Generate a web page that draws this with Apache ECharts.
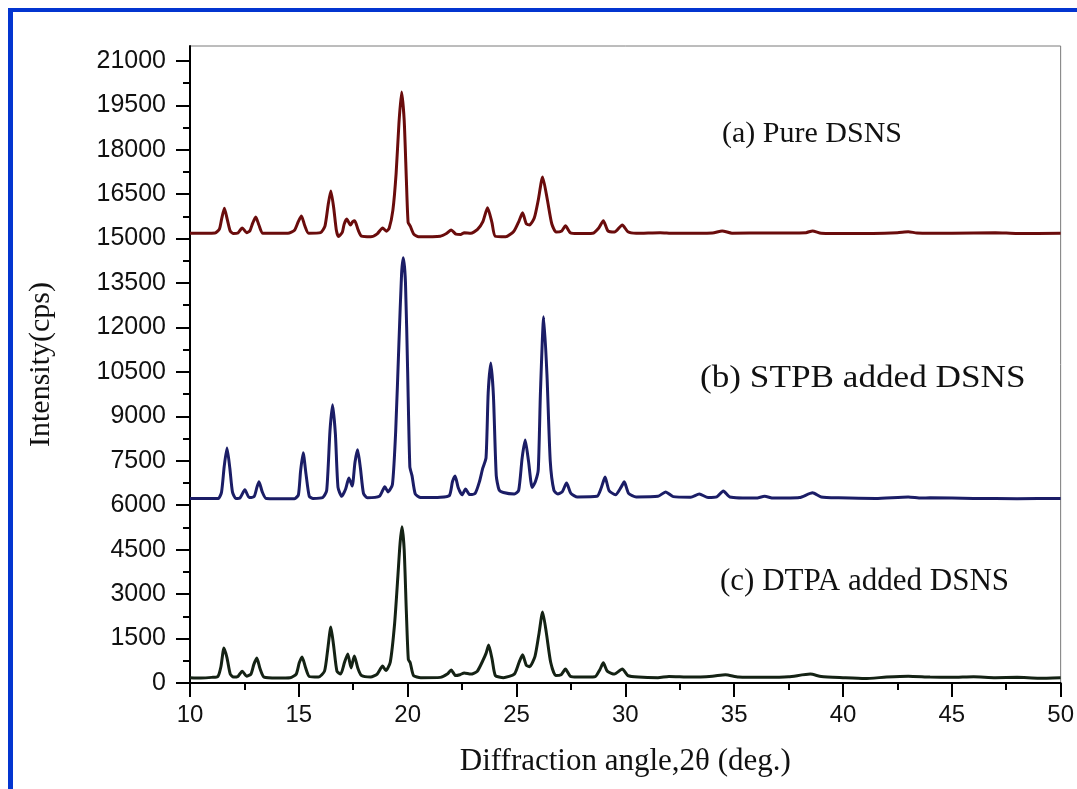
<!DOCTYPE html>
<html lang="en">

<head>
    <meta charset="UTF-8">
    <title>XRD DSNS</title>
    <script src="https://cdn.jsdelivr.net/npm/echarts/dist/echarts.min.js"></script>
    <style>
        body { margin: 0; background: #fff; }
        #main { width: 1077px; height: 789px; }
    </style>
</head>

<body>
    <div id="main"></div>

    <script>
        // tick values
        const xTicks = [10, 15, 20, 25, 30, 35, 40, 45, 50];
        const xMinorTicks = [12.5, 17.5, 22.5, 27.5, 32.5, 37.5, 42.5, 47.5];
        const yTicks = [0, 1500, 3000, 4500, 6000, 7500, 9000, 10500, 12000, 13500, 15000, 16500, 18000, 19500, 21000];
        const yMinorTicks = [750, 2250, 3750, 5250, 6750, 8250, 9750, 11250, 12750, 14250, 15750, 17250, 18750, 20250];

        // (a) pure DSNS [2theta, cps]
        const pureDSNS = [
            [10, 15180], [11.15, 15190], [11.35, 15320], [11.45, 15650], [11.58, 16020], [11.72, 15620], [11.85, 15250],
            [12.0, 15170], [12.2, 15190], [12.4, 15360], [12.6, 15200], [12.75, 15260], [12.88, 15520], [13.02, 15730],
            [13.17, 15450], [13.35, 15180], [14.5, 15180], [14.8, 15280], [14.98, 15580], [15.12, 15760], [15.27, 15440],
            [15.45, 15180], [16.0, 15200], [16.2, 15420], [16.35, 16150], [16.47, 16610], [16.6, 16050], [16.72, 15300],
            [16.82, 15070], [17.0, 15220], [17.08, 15480], [17.2, 15660], [17.37, 15460], [17.48, 15570], [17.57, 15600],
            [17.72, 15300], [17.88, 15080], [18.3, 15060], [18.6, 15160], [18.85, 15360], [19.02, 15250], [19.15, 15350],
            [19.32, 15950], [19.47, 17200], [19.6, 18900], [19.72, 19950], [19.84, 19000], [19.94, 17000], [20.02, 15550],
            [20.12, 15420], [20.28, 15150], [20.5, 15060], [21.5, 15080], [21.8, 15180], [22.0, 15290], [22.22, 15150],
            [22.45, 15140], [22.6, 15200], [22.9, 15180], [23.2, 15300], [23.45, 15560], [23.67, 16040], [23.87, 15550],
            [24.02, 15080], [24.5, 15060], [24.88, 15250], [25.12, 15600], [25.28, 15870], [25.45, 15500], [25.6, 15460],
            [25.82, 15700], [26.0, 16300], [26.2, 17080], [26.42, 16300], [26.62, 15500], [26.82, 15220], [27.08, 15260],
            [27.25, 15430], [27.47, 15200], [27.8, 15170], [28.5, 15180], [28.78, 15360], [28.99, 15600], [29.2, 15260],
            [29.5, 15220], [29.86, 15460], [30.12, 15230], [30.5, 15180], [31.6, 15200], [32.2, 15180], [34.0, 15190],
            [34.45, 15260], [34.9, 15180], [36.5, 15190], [38.3, 15200], [38.6, 15260], [39.0, 15180], [40.5, 15170],
            [42.5, 15200], [43.0, 15230], [43.4, 15190], [45, 15180], [47, 15200], [48, 15170], [50, 15180]
        ];

        // (b) STPB added DSNS
        const stpbDSNS = [
            [10, 6230], [11.3, 6230], [11.45, 6450], [11.57, 7300], [11.7, 7930], [11.83, 7250], [11.95, 6450], [12.1, 6230],
            [12.3, 6250], [12.52, 6520], [12.72, 6260], [12.95, 6300], [13.08, 6620], [13.17, 6790], [13.32, 6450],
            [13.5, 6230], [14.8, 6220], [14.98, 6350], [15.08, 7150], [15.2, 7770], [15.33, 7050], [15.48, 6300],
            [15.65, 6230], [16.1, 6260], [16.28, 6500], [16.43, 8500], [16.55, 9390], [16.68, 8400], [16.8, 6600],
            [16.97, 6300], [17.15, 6550], [17.3, 6920], [17.45, 6650], [17.58, 7450], [17.7, 7870], [17.83, 7250],
            [17.97, 6400], [18.15, 6250], [18.7, 6300], [18.95, 6620], [19.1, 6450], [19.3, 6700], [19.45, 8500],
            [19.6, 11500], [19.72, 13800], [19.8, 14350], [19.9, 13500], [20.0, 10500], [20.1, 7300], [20.2, 7000],
            [20.35, 6380], [20.6, 6260], [21.5, 6270], [21.92, 6330], [22.06, 6800], [22.18, 6990], [22.32, 6600],
            [22.5, 6350], [22.66, 6550], [22.85, 6360], [23.1, 6400], [23.3, 6800], [23.45, 7250], [23.6, 7600],
            [23.7, 9800], [23.82, 10800], [23.94, 9700], [24.07, 7000], [24.2, 6520], [24.4, 6430], [24.9, 6380],
            [25.1, 6500], [25.26, 7600], [25.4, 8200], [25.55, 7500], [25.72, 6600], [25.87, 6800], [26.0, 7200],
            [26.1, 9800], [26.25, 12360], [26.4, 10400], [26.55, 7500], [26.72, 6500], [26.9, 6380], [27.1, 6450],
            [27.3, 6750], [27.5, 6400], [27.8, 6280], [28.7, 6300], [28.9, 6600], [29.07, 6950], [29.25, 6500],
            [29.55, 6350], [29.8, 6600], [29.95, 6790], [30.15, 6400], [30.5, 6280], [31.5, 6300], [31.85, 6450],
            [32.2, 6290], [33.0, 6270], [33.4, 6380], [33.8, 6260], [34.2, 6280], [34.5, 6480], [34.8, 6280],
            [36.0, 6240], [36.4, 6300], [36.8, 6240], [38.0, 6260], [38.6, 6420], [39.0, 6280], [39.8, 6250],
            [41.5, 6230], [43.0, 6280], [43.6, 6240], [44.0, 6250], [46, 6230], [48, 6220], [50, 6230]
        ];

        // (c) DTPA added DSNS
        const dtpaDSNS = [
            [10, 180], [10.5, 170], [11.0, 190], [11.28, 220], [11.42, 550], [11.56, 1180], [11.7, 850], [11.85, 300],
            [12.0, 200], [12.2, 220], [12.4, 400], [12.6, 230], [12.8, 300], [12.93, 620], [13.07, 840], [13.22, 480],
            [13.4, 200], [14.0, 170], [14.6, 180], [14.88, 300], [15.02, 680], [15.15, 880], [15.3, 540], [15.48, 220],
            [15.9, 200], [16.18, 400], [16.33, 1150], [16.47, 1890], [16.6, 1250], [16.75, 400], [16.92, 300],
            [17.1, 700], [17.25, 980], [17.4, 510], [17.55, 910], [17.72, 480], [17.88, 250], [18.3, 200], [18.6, 300],
            [18.85, 570], [19.0, 420], [19.2, 700], [19.4, 2000], [19.55, 3600], [19.65, 4700], [19.74, 5270],
            [19.84, 4500], [19.94, 2400], [20.03, 800], [20.12, 680], [20.27, 250], [20.6, 180], [21.5, 190],
            [21.82, 300], [22.0, 440], [22.2, 250], [22.4, 280], [22.6, 340], [22.9, 300], [23.2, 400], [23.45, 750],
            [23.6, 1000], [23.72, 1280], [23.88, 800], [24.03, 250], [24.4, 180], [24.9, 300], [25.12, 700],
            [25.28, 950], [25.45, 600], [25.6, 550], [25.85, 900], [26.04, 1700], [26.2, 2400], [26.37, 1700],
            [26.57, 700], [26.8, 250], [27.05, 280], [27.25, 470], [27.47, 230], [27.8, 200], [28.6, 210],
            [28.83, 450], [28.99, 680], [29.17, 400], [29.5, 300], [29.86, 470], [30.12, 250], [30.6, 200],
            [31.5, 180], [32.0, 220], [33.0, 200], [34.0, 230], [34.6, 280], [35.2, 200], [36.5, 190], [37.5, 210],
            [38.5, 300], [39.0, 220], [40.0, 180], [41.0, 150], [42.0, 200], [43.0, 230], [44.0, 200], [45, 190],
            [46, 210], [47, 180], [48, 190], [49, 160], [50, 180]
        ];

        const seriesNames = ['(a) Pure DSNS', '(b) STPB added DSNS', '(c) DTPA added DSNS'];

        const myChart = echarts.init(document.getElementById('main'));

        const serif = '"Liberation Serif", "Times New Roman", serif';
        const sans = '"Liberation Sans", Arial, sans-serif';

        const option = {
            animation: false,
            backgroundColor: '#fff',
            grid: {
                left: 190, right: 15, top: 46, bottom: 106,
                show: true, borderColor: '#7a7a7a', borderWidth: 1
            },
            xAxis: [{
                type: 'value', min: 10, max: 50, interval: 5,
                name: 'Diffraction angle,2θ (deg.)',
                nameLocation: 'middle', nameGap: 63,
                nameTextStyle: { fontFamily: serif, fontSize: 31, color: '#111' },
                axisLine: { lineStyle: { color: '#000', width: 2 } },
                axisTick: { customValues: xTicks, length: 14, lineStyle: { color: '#000', width: 2 } },
                axisLabel: { customValues: xTicks, margin: 20, fontFamily: sans, fontSize: 24, color: '#111' },
                splitLine: { show: false }
            }, {
                type: 'value', min: 10, max: 50, position: 'bottom',
                axisLine: { show: false },
                axisTick: { customValues: xMinorTicks, length: 7, lineStyle: { color: '#000', width: 2 } },
                axisLabel: { show: false },
                splitLine: { show: false }
            }],
            yAxis: [{
                type: 'value', min: 0, max: 21500, interval: 1500,
                name: 'Intensity(cps)',
                nameLocation: 'middle', nameGap: 134,
                nameTextStyle: { fontFamily: serif, fontSize: 30, color: '#111' },
                axisLine: { lineStyle: { color: '#000', width: 2 } },
                axisTick: { customValues: yTicks, length: 14, lineStyle: { color: '#000', width: 2 } },
                axisLabel: {
                    customValues: yTicks, margin: 24, fontFamily: sans, fontSize: 25, color: '#111',
                    formatter: v => String(v)
                },
                splitLine: { show: false }
            }, {
                type: 'value', min: 0, max: 21500, position: 'left',
                axisLine: { show: false },
                axisTick: { customValues: yMinorTicks, length: 7, lineStyle: { color: '#000', width: 2 } },
                axisLabel: { show: false },
                splitLine: { show: false }
            }],
            series: [{
                name: seriesNames[0], type: 'line', data: pureDSNS, showSymbol: false,
                smooth: 0.2,
                lineStyle: { color: '#6a0c0c', width: 3 }
            }, {
                name: seriesNames[1], type: 'line', data: stpbDSNS, showSymbol: false,
                smooth: 0.2,
                lineStyle: { color: '#1b1d66', width: 3 }
            }, {
                name: seriesNames[2], type: 'line', data: dtpaDSNS, showSymbol: false,
                smooth: 0.2,
                lineStyle: { color: '#142214', width: 3 }
            }],
            graphic: [
                // blue frame on top and left
                { type: 'rect', shape: { x: 8, y: 8, width: 1069, height: 4 }, style: { fill: '#0335d0' } },
                { type: 'rect', shape: { x: 8, y: 8, width: 5, height: 781 }, style: { fill: '#0335d0' } },
                {
                    type: 'text', left: 722, top: 119,
                    style: { text: seriesNames[0], font: '30px ' + serif, fill: '#111' }
                },
                {
                    type: 'text', left: 700, top: 363, scaleX: 1.1,
                    style: { text: seriesNames[1], font: '32px ' + serif, fill: '#111' }
                },
                {
                    type: 'text', left: 720, top: 566,
                    style: { text: seriesNames[2], font: '31px ' + serif, fill: '#111' }
                }
            ]
        };

        myChart.setOption(option);
    </script>
</body>

</html>
